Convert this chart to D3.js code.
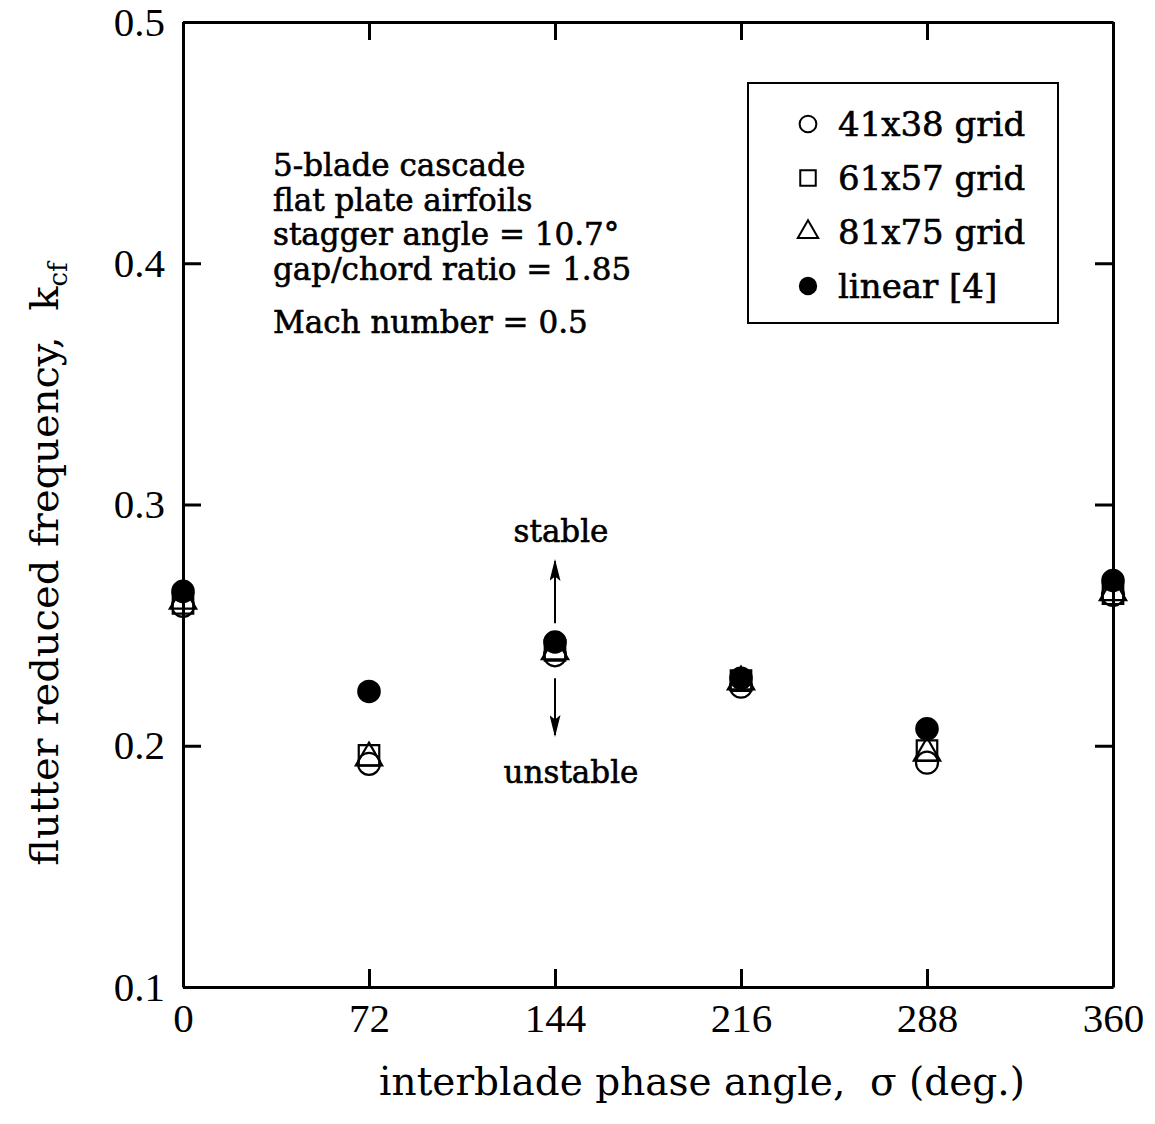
<!DOCTYPE html>
<html>
<head>
<meta charset="utf-8">
<script src="https://cdn.jsdelivr.net/npm/d3@7"></script>
<style>
  body { margin: 0; background: #fff; }
  text { fill: #000; white-space: pre; }
</style>
</head>
<body>
<div id="chart"></div>
<script>
// phase angles (deg) and reduced frequency per data set
var phaseAngles = [0, 72, 144, 216, 288, 360];
var grid41 = [0.258, 0.1925, 0.2375, 0.2245, 0.193, 0.2625];
var grid61 = [0.259, 0.196, 0.2395, 0.227, 0.198, 0.263];
var grid81 = [0.26, 0.195, 0.239, 0.2265, 0.197, 0.2635];
var linear4 = [0.264, 0.2225, 0.243, 0.228, 0.207, 0.2685];
var xTicks = [0, 72, 144, 216, 288, 360];
var yTicks = [0.1, 0.2, 0.3, 0.4, 0.5];
var legendNames = ["41x38 grid", "61x57 grid", "81x75 grid", "linear [4]"];
var noteLines = ["5-blade cascade", "flat plate airfoils", "stagger angle = 10.7°", "gap/chord ratio = 1.85"];

var svgWidth = 1155;
var svgHeight = 1124;
var margin = { top: 22, right: 42, bottom: 137, left: 183 };
var width = svgWidth - margin.left - margin.right;
var height = svgHeight - margin.top - margin.bottom;

var svg = d3.select("#chart")
  .append("svg")
  .attr("width", svgWidth)
  .attr("height", svgHeight);

var chartGroup = svg.append("g")
  .attr("transform", `translate(${margin.left}, ${margin.top})`);

var xScale = d3.scaleLinear().domain([0, 360]).range([0, width]);
var yScale = d3.scaleLinear().domain([0.1, 0.5]).range([height, 0]);

var tickFont = "'Liberation Serif', 'Times New Roman', serif";
var textFont = "'DejaVu Serif', serif";

// axes, ticks pointing inside
var bottomAxis = d3.axisBottom(xScale).tickValues(xTicks).tickSizeInner(-18).tickSizeOuter(0).tickPadding(16);
var topAxis = d3.axisTop(xScale).tickValues(xTicks).tickSizeInner(-18).tickSizeOuter(0).tickFormat("");
var leftAxis = d3.axisLeft(yScale).tickValues(yTicks).tickSizeInner(-18).tickSizeOuter(0).tickPadding(18).tickFormat(d3.format(".1f"));
var rightAxis = d3.axisRight(yScale).tickValues(yTicks).tickSizeInner(-18).tickSizeOuter(0).tickFormat("");

chartGroup.append("g").attr("transform", `translate(0, ${height})`).call(bottomAxis);
chartGroup.append("g").call(topAxis);
chartGroup.append("g").call(leftAxis);
chartGroup.append("g").attr("transform", `translate(${width}, 0)`).call(rightAxis);

chartGroup.selectAll(".domain").attr("stroke", "#000").attr("stroke-width", 3);
chartGroup.selectAll(".tick line").attr("stroke", "#000").attr("stroke-width", 3);
chartGroup.selectAll(".tick text")
  .attr("font-family", tickFont)
  .attr("font-size", 41)
  .attr("fill", "#000");

// data markers
var series = [
  { name: legendNames[0], values: grid41, type: d3.symbolCircle, size: 380, fill: "none" },
  { name: legendNames[1], values: grid61, type: d3.symbolSquare, size: 420, fill: "none" },
  { name: legendNames[2], values: grid81, type: d3.symbolTriangle, size: 300, fill: "none" },
  { name: legendNames[3], values: linear4, type: d3.symbolCircle, size: 360, fill: "#000" }
];

series.forEach(function(s) {
  chartGroup.selectAll(null)
    .data(s.values)
    .enter()
    .append("path")
    .attr("d", d3.symbol().type(s.type).size(s.size))
    .attr("transform", (d, i) => `translate(${xScale(phaseAngles[i])}, ${yScale(d)})`)
    .attr("fill", s.fill)
    .attr("stroke", "#000")
    .attr("stroke-width", 2.2);
});

// note text
var notes = chartGroup.append("text")
  .attr("font-family", textFont)
  .attr("font-size", 31)
  .attr("stroke", "#000").attr("stroke-width", 0.6)
  .attr("x", 90);
noteLines.forEach(function(t, i) {
  notes.append("tspan").attr("x", 90).attr("y", 154 + i * 34.5).text(t);
});
chartGroup.append("text")
  .attr("font-family", textFont)
  .attr("font-size", 31)
  .attr("stroke", "#000").attr("stroke-width", 0.6)
  .attr("x", 90)
  .attr("y", 311)
  .text("Mach number = 0.5");

// legend
var legend = chartGroup.append("g").attr("transform", "translate(565, 61)");
legend.append("rect")
  .attr("width", 310)
  .attr("height", 240)
  .attr("fill", "#fff")
  .attr("stroke", "#000")
  .attr("stroke-width", 2);
var legendSizes = [220, 240, 180, 210];
series.forEach(function(s, i) {
  var row = legend.append("g").attr("transform", `translate(60, ${41 + i * 54})`);
  row.append("path")
    .attr("d", d3.symbol().type(s.type).size(legendSizes[i]))
    .attr("fill", s.fill)
    .attr("stroke", "#000")
    .attr("stroke-width", 2);
  row.append("text")
    .attr("x", 30)
    .attr("y", 12)
    .attr("font-family", textFont)
    .attr("font-size", 34)
    .attr("stroke", "#000").attr("stroke-width", 0.6)
    .text(s.name);
});

// stable / unstable annotation
var arrowX = xScale(144);
svg.append("defs").append("marker")
  .attr("id", "head")
  .attr("viewBox", "0 0 20 10")
  .attr("refX", 18).attr("refY", 5)
  .attr("markerUnits", "userSpaceOnUse")
  .attr("markerWidth", 22).attr("markerHeight", 11)
  .attr("orient", "auto")
  .append("path").attr("d", "M0,0 L20,5 L0,10 L4,5 Z").attr("fill", "#000");
chartGroup.append("line")
  .attr("x1", arrowX).attr("x2", arrowX)
  .attr("y1", yScale(0.2508)).attr("y2", yScale(0.2765))
  .attr("stroke", "#000").attr("stroke-width", 2)
  .attr("marker-end", "url(#head)");
chartGroup.append("line")
  .attr("x1", arrowX).attr("x2", arrowX)
  .attr("y1", yScale(0.228)).attr("y2", yScale(0.2045))
  .attr("stroke", "#000").attr("stroke-width", 2)
  .attr("marker-end", "url(#head)");
chartGroup.append("text")
  .attr("x", arrowX + 6).attr("y", yScale(0.3) + 37)
  .attr("text-anchor", "middle")
  .attr("font-family", textFont)
  .attr("font-size", 31)
  .attr("stroke", "#000").attr("stroke-width", 0.6)
  .text("stable");
chartGroup.append("text")
  .attr("x", arrowX + 16).attr("y", yScale(0.2) + 37)
  .attr("text-anchor", "middle")
  .attr("font-family", textFont)
  .attr("font-size", 31)
  .attr("stroke", "#000").attr("stroke-width", 0.6)
  .text("unstable");

// axis titles
svg.append("text")
  .attr("x", 702)
  .attr("y", 1095)
  .attr("text-anchor", "middle")
  .attr("font-family", textFont)
  .attr("font-size", 39)
  .text("interblade phase angle,  σ (deg.)");

var yTitle = svg.append("text")
  .attr("transform", "translate(58, 564) rotate(-90)")
  .attr("text-anchor", "middle")
  .attr("font-family", textFont)
  .attr("font-size", 40);
yTitle.append("tspan").text("flutter reduced frequency,  k");
yTitle.append("tspan").attr("font-size", 26).attr("dy", 9).text("cf");
</script>
</body>
</html>
